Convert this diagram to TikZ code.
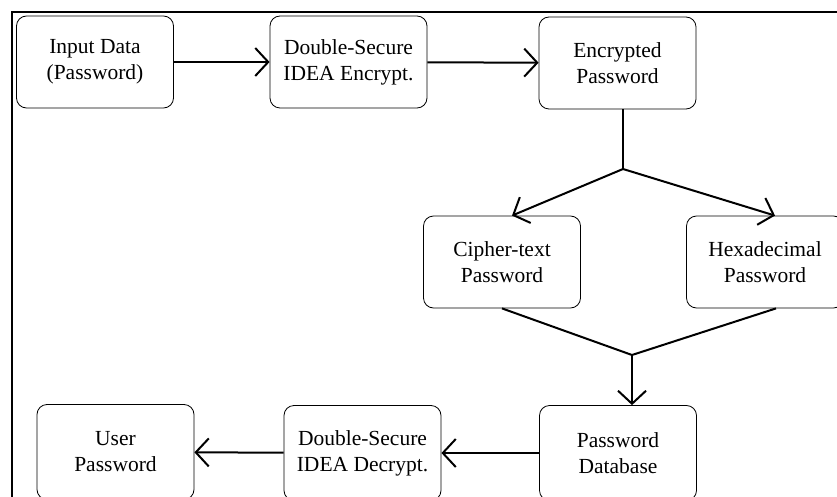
\documentclass[tikz,border=0pt]{standalone}
\usepackage{fontspec}
\setmainfont{Liberation Serif}
\usepackage{tikz}
\usetikzlibrary{arrows.meta}
\tikzset{
	main box/.style={draw,rounded corners=10pt,line width=0.8pt,align=center,
		minimum width=157pt,minimum height=92pt,inner sep=0pt,
		font=\fontsize{21.5}{26}\selectfont},
	low box/.style={main box,minimum height=95pt},
	flow/.style={line width=2pt},
	flow arrow/.style={flow,-{Straight Barb[length=13pt,width=28pt,line width=2pt]}}
}

\begin{document}
\begin{tikzpicture}[x=1pt,y=-1pt]
	\useasboundingbox (0,0) rectangle (837,497);
	% frame
	\draw[line width=2pt] (837,12) -- (12,12) -- (12,497);
	% top row
	\node [main box] (inp) at (95,62) {Input Data\\(Password)};
	\node [main box] (encr) at (348.5,62) {Double-Secure\\IDEA Encrypt.};
	\node [main box] (encd) at (617.5,63) {Encrypted\\Password};
	% middle row
	\node [main box] (ciph) at (502,262) {Cipher-text\\Password};
	\node [main box] (hexa) at (765,262) {Hexadecimal\\Password};
	% bottom row
	\node [low box] (pdb) at (618,453) {Password\\Database};
	\node [low box] (decr) at (362.5,453) {Double-Secure\\IDEA Decrypt.};
	\node [low box] (usr) at (115.5,452) {User\\Password};
	\coordinate (split) at (623,169);
	\coordinate (merge) at (632,355);
	% connectors
	\draw [flow arrow] (inp) -- (encr);
	\draw [flow arrow] (encr) -- (encd);
	\draw [flow] (encd.south -| split) -- (split);
	\draw [flow arrow] (split) -- ([xshift=10pt]ciph.north);
	\draw [flow arrow] (split) -- ([xshift=10pt]hexa.north);
	\draw [flow] (ciph.south) -- (merge);
	\draw [flow] ([xshift=11pt]hexa.south) -- (merge);
	\draw [flow arrow] (merge) -- (pdb.north -| merge);
	\draw [flow arrow] (pdb) -- (decr);
	\draw [flow arrow] (decr) -- (usr);
\end{tikzpicture}
\end{document}
